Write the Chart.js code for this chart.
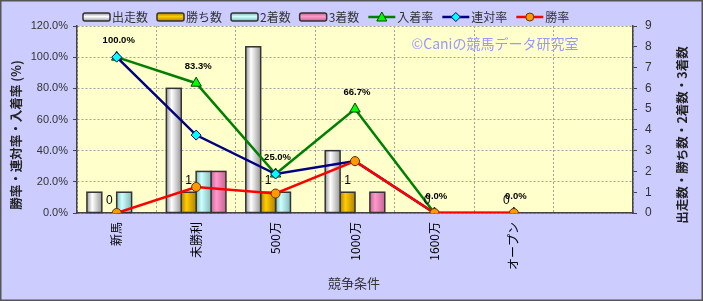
<!DOCTYPE html>
<html>
<head>
<meta charset="utf-8">
<script src="https://cdn.jsdelivr.net/npm/chart.js@4.4.0/dist/chart.umd.min.js"></script>
<style>
  html, body { margin: 0; padding: 0; background: #ccccff; }
</style>
</head>
<body>
<canvas id="raceChart" width="703" height="301"></canvas>
<script>
    // 競争条件ごとの成績
    var categories = ['新馬', '未勝利', '500万', '1000万', '1600万', 'オープン', ''];
    var starts = [1, 6, 8, 3, 0, 0];
    var wins = [0, 1, 1, 1, 0, 0];
    var seconds = [1, 2, 1, 0, 0, 0];
    var thirds = [0, 2, 0, 1, 0, 0];
    var placeRate = [100, 83.3, 25, 66.7, 0, 0];
    var rentaiRate = [100, 50, 25, 33.3, 0, 0];
    var winRate = [0, 16.7, 12.5, 33.3, 0, 0];
    var rateTicks = [0, 20, 40, 60, 80, 100, 120];
    var countTicks = [0, 1, 2, 3, 4, 5, 6, 7, 8, 9];

    var jpFont = '"Noto Sans CJK JP", sans-serif';
    var barShades = [['#9a9a9a', '#ffffff'], ['#b08400', '#ffcc00'], ['#86b8b8', '#ccffff'], ['#c86496', '#ff99cc']];

    function barGradient(c, x0, x1, dark, light) {
        var g = c.createLinearGradient(x0, 0, x1, 0);
        g.addColorStop(0, dark);
        g.addColorStop(0.35, light);
        g.addColorStop(1, dark);
        return g;
    }

    function drawMarker(c, style, x, y, fill, stroke) {
        c.save();
        c.fillStyle = fill;
        c.strokeStyle = stroke;
        c.lineWidth = 1;
        c.beginPath();
        if (style === 'triangle') {
            c.moveTo(x, y - 5); c.lineTo(x + 5, y + 4); c.lineTo(x - 5, y + 4); c.closePath();
        } else if (style === 'rectRot') {
            c.moveTo(x, y - 4.5); c.lineTo(x + 4.5, y); c.lineTo(x, y + 4.5); c.lineTo(x - 4.5, y); c.closePath();
        } else {
            c.arc(x, y, 4, 0, Math.PI * 2);
        }
        c.fill(); c.stroke();
        c.restore();
    }

    var decor = {
        id: 'decor',
        beforeDraw: function (chart) {
            var c = chart.ctx, a = chart.chartArea;
            c.save();
            c.fillStyle = '#ccccff';
            c.fillRect(0, 0, chart.width, chart.height);
            c.fillStyle = '#ffffcc';
            c.fillRect(a.left, a.top, a.right - a.left, a.bottom - a.top);
            c.restore();
        },
        beforeDatasetsDraw: function (chart) {
            var c = chart.ctx;
            c.save();
            c.font = '14px ' + jpFont;
            c.fillStyle = '#9999ff';
            c.textAlign = 'center';
            c.textBaseline = 'middle';
            c.fillText('©Caniの競馬データ研究室', 495, 44);
            c.restore();
        },
        afterDatasetDraw: function (chart, args) {
            var ds = chart.data.datasets[args.index];
            if (ds.type !== 'bar') return;
            var c = chart.ctx;
            var shade = barShades[args.index];
            args.meta.data.forEach(function (el) {
                var h = el.base - el.y;
                if (h < 1) return;
                var x0 = el.x - el.width / 2;
                c.save();
                c.fillStyle = barGradient(c, x0, x0 + el.width, shade[0], shade[1]);
                c.fillRect(x0, el.y, el.width, h);
                c.strokeStyle = '#333';
                c.lineWidth = 1.5;
                c.strokeRect(x0, el.y, el.width, h);
                c.restore();
            });
        },
        afterDatasetsDraw: function (chart) {
            var c = chart.ctx;
            c.save();
            c.textAlign = 'center';
            c.textBaseline = 'middle';
            c.fillStyle = '#000';
            // 勝ち数
            c.font = '12px "Liberation Sans", sans-serif';
            chart.getDatasetMeta(1).data.forEach(function (el, i) {
                c.fillText(String(wins[i]), el.x, el.y - 12);
            });
            // 入着率
            c.font = 'bold 9.5px "Liberation Sans", sans-serif';
            chart.getDatasetMeta(4).data.forEach(function (el, i) {
                c.fillText(placeRate[i].toFixed(1) + '%', el.x + 2, el.y - 17);
            });
            c.restore();
        },
        afterDraw: function (chart) {
            var c = chart.ctx;
            c.save();
            // 凡例
            c.font = '12px ' + jpFont;
            c.textBaseline = 'middle';
            var x = 83, y = 17;
            chart.data.datasets.forEach(function (ds, i) {
                if (ds.type === 'bar') {
                    var g = c.createLinearGradient(0, y - 4, 0, y + 4);
                    g.addColorStop(0, barShades[i][0]);
                    g.addColorStop(0.45, barShades[i][1]);
                    g.addColorStop(1, barShades[i][0]);
                    c.fillStyle = g;
                    c.strokeStyle = '#333';
                    c.lineWidth = 1.5;
                    c.beginPath();
                    c.roundRect(x, y - 4, 27, 8, 2);
                    c.fill(); c.stroke();
                } else {
                    c.strokeStyle = ds.borderColor;
                    c.lineWidth = 2.5;
                    c.beginPath();
                    c.moveTo(x, y); c.lineTo(x + 27, y);
                    c.stroke();
                    drawMarker(c, ds.pointStyle, x + 13.5, y, ds.pointBackgroundColor, ds.pointBorderColor);
                }
                c.fillStyle = '#333';
                c.textAlign = 'left';
                c.fillText(ds.label, x + 29, y);
                x += 29 + c.measureText(ds.label).width + 9;
            });
            // 軸タイトル
            var a = chart.chartArea;
            c.fillStyle = '#222';
            c.textAlign = 'center';
            c.font = 'bold 12.5px ' + jpFont;
            c.save();
            c.translate(16, 135);
            c.rotate(-Math.PI / 2);
            c.fillText('勝率・連対率・入着率 (%)', 0, 0);
            c.restore();
            c.save();
            c.translate(682, 135);
            c.rotate(-Math.PI / 2);
            c.fillText('出走数・勝ち数・2着数・3着数', 0, 0);
            c.restore();
            c.font = '13px ' + jpFont;
            c.fillStyle = '#333';
            c.fillText('競争条件', (a.left + a.right) / 2 - 1, 283);
            // 外枠
            c.strokeStyle = '#555';
            c.lineWidth = 1.5;
            c.strokeRect(0.75, 0.75, chart.width - 1.5, chart.height - 1.5);
            c.restore();
        }
    };

    function barSet(label, data, color) {
        return {
            type: 'bar', label: label, data: data, yAxisID: 'yCount', order: 4,
            backgroundColor: color, borderColor: '#333', borderWidth: 0,
            categoryPercentage: 0.75, barPercentage: 1
        };
    }

    function lineSet(label, data, color, style, fill, stroke, radius, order) {
        return {
            type: 'line', label: label, data: data, yAxisID: 'yRate', order: order,
            borderColor: color, borderWidth: 2.5, pointStyle: style, pointRadius: radius,
            pointBackgroundColor: fill, pointBorderColor: stroke, pointBorderWidth: 1,
            tension: 0, fill: false
        };
    }

    var ctx = document.getElementById('raceChart').getContext('2d');
    var raceChart = new Chart(ctx, {
        type: 'bar',
        data: {
            labels: categories,
            datasets: [
                barSet('出走数', starts, '#e0e0e0'),
                barSet('勝ち数', wins, '#ffcc00'),
                barSet('2着数', seconds, '#ccffff'),
                barSet('3着数', thirds, '#ff99cc'),
                lineSet('入着率', placeRate, '#008000', 'triangle', '#00ff00', '#004400', 6, 3),
                lineSet('連対率', rentaiRate, '#000080', 'rectRot', '#00ffff', '#000066', 5, 2),
                lineSet('勝率', winRate, '#ff0000', 'circle', '#ff9900', '#663300', 4.5, 1)
            ]
        },
        options: {
            responsive: false,
            animation: false,
            layout: { padding: { top: 26, left: 0, right: 0, bottom: 0 } },
            plugins: {
                legend: { display: false },
                tooltip: { enabled: false }
            },
            scales: {
                x: {
                    offset: true,
                    grid: { color: '#a0a0a0', drawTicks: false, offset: true },
                    border: { color: '#444', width: 1.5, dash: [2, 2] },
                    ticks: {
                        autoSkip: false, maxRotation: 90, minRotation: 90, padding: 9,
                        color: '#000', font: { family: jpFont, size: 12 }
                    },
                    afterFit: function (s) { s.height = 88; }
                },
                yRate: {
                    position: 'left', min: 0, max: 120,
                    afterBuildTicks: function (s) { s.ticks = rateTicks.map(function (v) { return { value: v }; }); },
                    grid: { color: '#a0a0a0', tickColor: '#444', tickLength: 4 },
                    border: { color: '#444', width: 1.5, dash: [2, 2] },
                    ticks: {
                        padding: 5, color: '#333', font: { family: '"Liberation Sans", sans-serif', size: 11 },
                        callback: function (v) { return v.toFixed(1) + '%'; }
                    },
                    afterFit: function (s) { s.width = 77; }
                },
                yCount: {
                    position: 'right', min: 0, max: 9,
                    afterBuildTicks: function (s) { s.ticks = countTicks.map(function (v) { return { value: v }; }); },
                    grid: { drawOnChartArea: false, tickColor: '#444', tickLength: 4 },
                    border: { color: '#444', width: 1.5 },
                    ticks: { padding: 8, color: '#333', font: { family: '"Liberation Sans", sans-serif', size: 12 } },
                    afterFit: function (s) { s.width = 70; }
                }
            }
        },
        plugins: [decor]
    });
</script>
</body>
</html>
